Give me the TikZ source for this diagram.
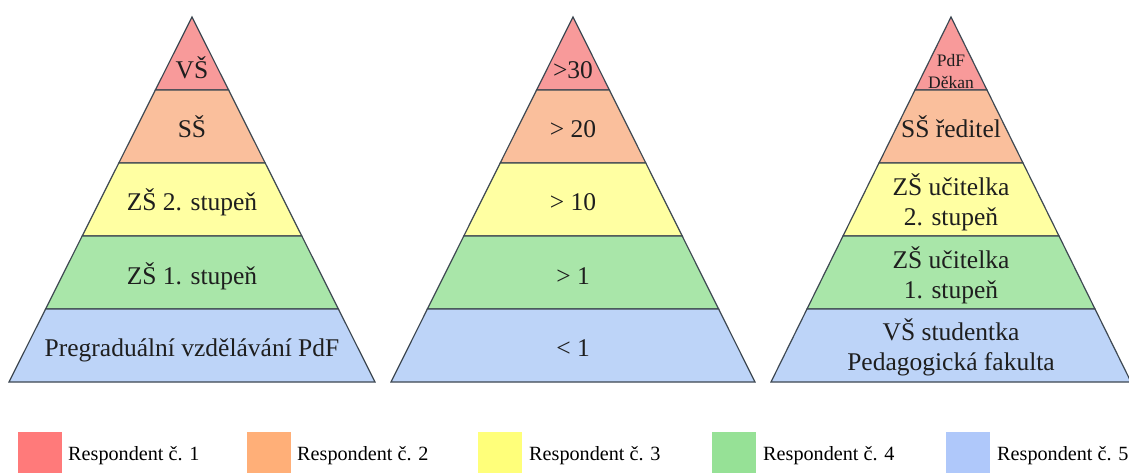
\documentclass[tikz,border=0pt]{standalone}
\usepackage{fontspec}
\setmainfont{Liberation Serif}

% layer fills of the pyramids
\definecolor{layA}{HTML}{F89A9A}
\definecolor{layB}{HTML}{FABF9C}
\definecolor{layC}{HTML}{FFFFA2}
\definecolor{layD}{HTML}{A9E6A9}
\definecolor{layE}{HTML}{BDD4F8}
% legend swatches
\definecolor{legA}{HTML}{FF7A7A}
\definecolor{legB}{HTML}{FFAF78}
\definecolor{legC}{HTML}{FFFF7A}
\definecolor{legD}{HTML}{96E196}
\definecolor{legE}{HTML}{AFC8FA}
\definecolor{edge}{HTML}{3E4852}
\definecolor{ink}{HTML}{1E1E1E}

% five stacked bands of a pyramid: #1 = centre x, #2 = half of the base width
\newcommand{\drawpyr}[2]{%
  \foreach \i/\col in {0/layA,1/layB,2/layC,3/layD,4/layE}{%
    \pgfmathsetmacro\ytop{17+73*\i}%
    \pgfmathsetmacro\ybot{17+73*(\i+1)}%
    \pgfmathsetmacro\wtop{#2*\i/5}%
    \pgfmathsetmacro\wbot{#2*(\i+1)/5}%
    \filldraw[layer,fill=\col] (#1-\wtop,\ytop) -- (#1+\wtop,\ytop)
      -- (#1+\wbot,\ybot) -- (#1-\wbot,\ybot) -- cycle;
  }%
}

\begin{document}
\begin{tikzpicture}[x=1pt,y=-1pt,
  layer/.style={draw=edge,line width=1.2pt,line join=miter},
  lab/.style={inner sep=0pt,text=ink,font=\fontsize{25.5}{30}\selectfont},
  labtwo/.style={lab,align=center},
  labsmall/.style={inner sep=0pt,text=ink,align=center,font=\fontsize{17.5}{22}\selectfont},
  legsq/.style={inner sep=0pt,minimum width=44pt,minimum height=44pt,draw=none},
  legtxt/.style={inner sep=0pt,anchor=base west,text=black,font=\fontsize{20.2}{24}\selectfont}]

\useasboundingbox (0,0) rectangle (1129,472);
\clip (0,0) rectangle (1129,472);
\fill[white] (0,0) rectangle (1129,472);

% --- pyramid 1: type of school
\drawpyr{192}{183}
\node[lab,anchor=base] (a1) at (192,78)    {VŠ};
\node[lab,anchor=base] (a2) at (192,137.5) {SŠ};
\node[lab,anchor=base] (a3) at (192,210.5) {ZŠ 2. stupeň};
\node[lab,anchor=base] (a4) at (192,284)   {ZŠ 1. stupeň};
\node[lab,anchor=base] (a5) at (192,356.5) {Pregraduální vzdělávání PdF};

% --- pyramid 2: years of practice
\drawpyr{573}{182}
\node[lab,anchor=base] (b1) at (573,78)    {>30};
\node[lab,anchor=base] (b2) at (573,137.5) {> 20};
\node[lab,anchor=base] (b3) at (573,210.5) {> 10};
\node[lab,anchor=base] (b4) at (573,284)   {> 1};
\node[lab,anchor=base] (b5) at (573,356.5) {< 1};

% --- pyramid 3: position of the respondent
\drawpyr{951}{180}
\node[labsmall] (c1) at (951,71.5)  {PdF\\Děkan};
\node[lab,anchor=base] (c2) at (951,137.5) {SŠ ředitel};
\node[labtwo] (c3) at (951,202.5) {ZŠ učitelka\\2. stupeň};
\node[labtwo] (c4) at (951,275.5) {ZŠ učitelka\\1. stupeň};
\node[labtwo] (c5) at (951,347)   {VŠ studentka\\Pedagogická fakulta};

% --- legend
\node[legsq,fill=legA] (s1) at (40,454)  {};
\node[legsq,fill=legB] (s2) at (269,454) {};
\node[legsq,fill=legC] (s3) at (500,454) {};
\node[legsq,fill=legD] (s4) at (734,454) {};
\node[legsq,fill=legE] (s5) at (968,454) {};
\node[legtxt] (t1) at (68,460)  {Respondent č. 1};
\node[legtxt] (t2) at (297,460) {Respondent č. 2};
\node[legtxt] (t3) at (529,460) {Respondent č. 3};
\node[legtxt] (t4) at (763,460) {Respondent č. 4};
\node[legtxt] (t5) at (997,460) {Respondent č. 5};
\end{tikzpicture}
\end{document}
